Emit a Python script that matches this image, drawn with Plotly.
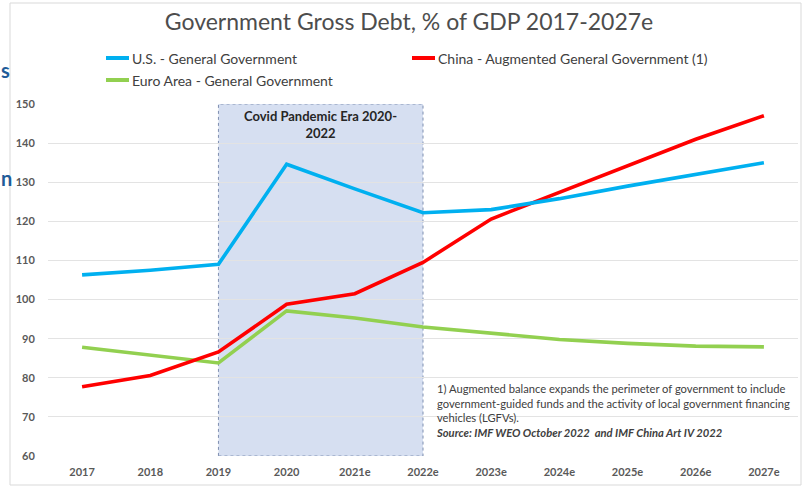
import plotly.graph_objects as go

years = ["2017", "2018", "2019", "2020", "2021e", "2022e", "2023e", "2024e", "2025e", "2026e", "2027e"]
us_debt = [106.3, 107.5, 109.0, 134.6, 128.3, 122.2, 123.0, 125.8, 129.0, 132.0, 135.0]
china_debt = [77.7, 80.6, 86.6, 98.8, 101.5, 109.5, 120.6, 127.4, 134.2, 141.0, 147.0]
euro_debt = [87.8, 85.8, 83.8, 97.1, 95.3, 93.0, 91.3, 89.8, 88.8, 88.1, 87.9]

series_names = ["U.S. - General Government", "China - Augmented General Government (1)", "Euro Area - General Government"]
series_colors = ["#00B0F0", "#FF0000", "#92D050"]

covid_start, covid_end = "2019", "2022e"
y_ticks = [60, 70, 80, 90, 100, 110, 120, 130, 140, 150]

FONT = "Lato"
GRAY = "#595959"
W, H = 809, 493
L, R, T, B = 48, 11, 104, 37
PW, PH = W - L - R, H - T - B


def px_x(px):
    return (px - L) / PW


def px_y(py):
    return (H - B - py) / PH


fig = go.Figure()

order = [(series_names[2], euro_debt, series_colors[2]),
         (series_names[1], china_debt, series_colors[1]),
         (series_names[0], us_debt, series_colors[0])]
for name, vals, col in order:
    fig.add_trace(go.Scatter(x=years, y=vals, mode="lines", name=name,
                             line=dict(color=col, width=3.6), showlegend=False,
                             hoverinfo="x+y+name"))

# Covid shaded box
fig.add_shape(type="rect", xref="x", yref="y",
              x0=years.index(covid_start), x1=years.index(covid_end),
              y0=y_ticks[0], y1=y_ticks[-1],
              fillcolor="rgba(180,196,230,0.55)",
              line=dict(color="#7F8FB0", width=1, dash="dot"), layer="below")

fig.add_annotation(x=(years.index(covid_start) + years.index(covid_end)) / 2, y=150,
                   xref="x", yref="y", yanchor="top", yshift=-2,
                   text="<b>Covid Pandemic Era 2020-<br>2022</b>", showarrow=False,
                   font=dict(family=FONT, size=13, color="#262626"), align="center")

# Manual legend
legend_items = [(series_names[0], series_colors[0], 106, 58),
                (series_names[1], series_colors[1], 412, 58),
                (series_names[2], series_colors[2], 106, 80)]
for name, col, lx, ly in legend_items:
    fig.add_shape(type="line", xref="paper", yref="paper",
                  x0=px_x(lx), x1=px_x(lx + 23), y0=px_y(ly), y1=px_y(ly),
                  line=dict(color=col, width=4))
    fig.add_annotation(x=px_x(lx + 24), y=px_y(ly),
                       xref="paper", yref="paper", xanchor="left", yanchor="middle",
                       text=name, showarrow=False,
                       font=dict(family=FONT, size=14, color="#404040"))

# Footnote
fig.add_annotation(x=px_x(434), y=px_y(380),
                   xref="paper", yref="paper", xanchor="left", yanchor="top",
                   text="1) Augmented balance expands the perimeter of government to include<br>"
                        "government-guided funds and the activity of local government financing<br>"
                        "vehicles (LGFVs).<br>"
                        "<b><i>Source: IMF WEO October 2022  and IMF China Art IV 2022</i></b>",
                   showarrow=False, align="left",
                   font=dict(family=FONT, size=11.2, color="#404040"))

# background slide fragments (partially visible text from the slide behind)
for txt, yy in [("s", 70), ("n", 178)]:
    fig.add_annotation(x=px_x(0), y=px_y(yy),
                       xref="paper", yref="paper", xanchor="left", yanchor="middle",
                       text="<b>" + txt + "</b>", showarrow=False, borderpad=0,
                       font=dict(family=FONT, size=20, color="#1F5C99"))

# chart border
fig.add_shape(type="rect", xref="paper", yref="paper",
              x0=px_x(10), x1=px_x(801), y0=px_y(485), y1=px_y(3),
              line=dict(color="#D9D9D9", width=1), layer="below")

fig.update_layout(
    width=W, height=H,
    margin=dict(l=L, r=R, t=T, b=B),
    paper_bgcolor="white", plot_bgcolor="white",
    title=dict(text="Government Gross Debt, % of GDP 2017-2027e",
               x=409 / W, xanchor="center", y=1 - 22 / H, yanchor="middle",
               font=dict(family=FONT, size=23, color="#4D4D4D")),
    xaxis=dict(type="category", range=[-0.5, len(years) - 0.5], showgrid=False,
               zeroline=False, showline=False,
               tickfont=dict(family=FONT, size=11, color=GRAY, weight="bold"),
               ticks="outside", ticklen=6, tickcolor="rgba(0,0,0,0)"),
    yaxis=dict(range=[60, 150], tickvals=y_ticks, showgrid=True, gridcolor="#E3E3E3",
               gridwidth=1, zeroline=False, showline=False,
               tickfont=dict(family=FONT, size=11, color=GRAY, weight="bold"),
               ticks="outside", ticklen=10, tickcolor="rgba(0,0,0,0)"),
    showlegend=False,
)

fig.write_html("out.html")
